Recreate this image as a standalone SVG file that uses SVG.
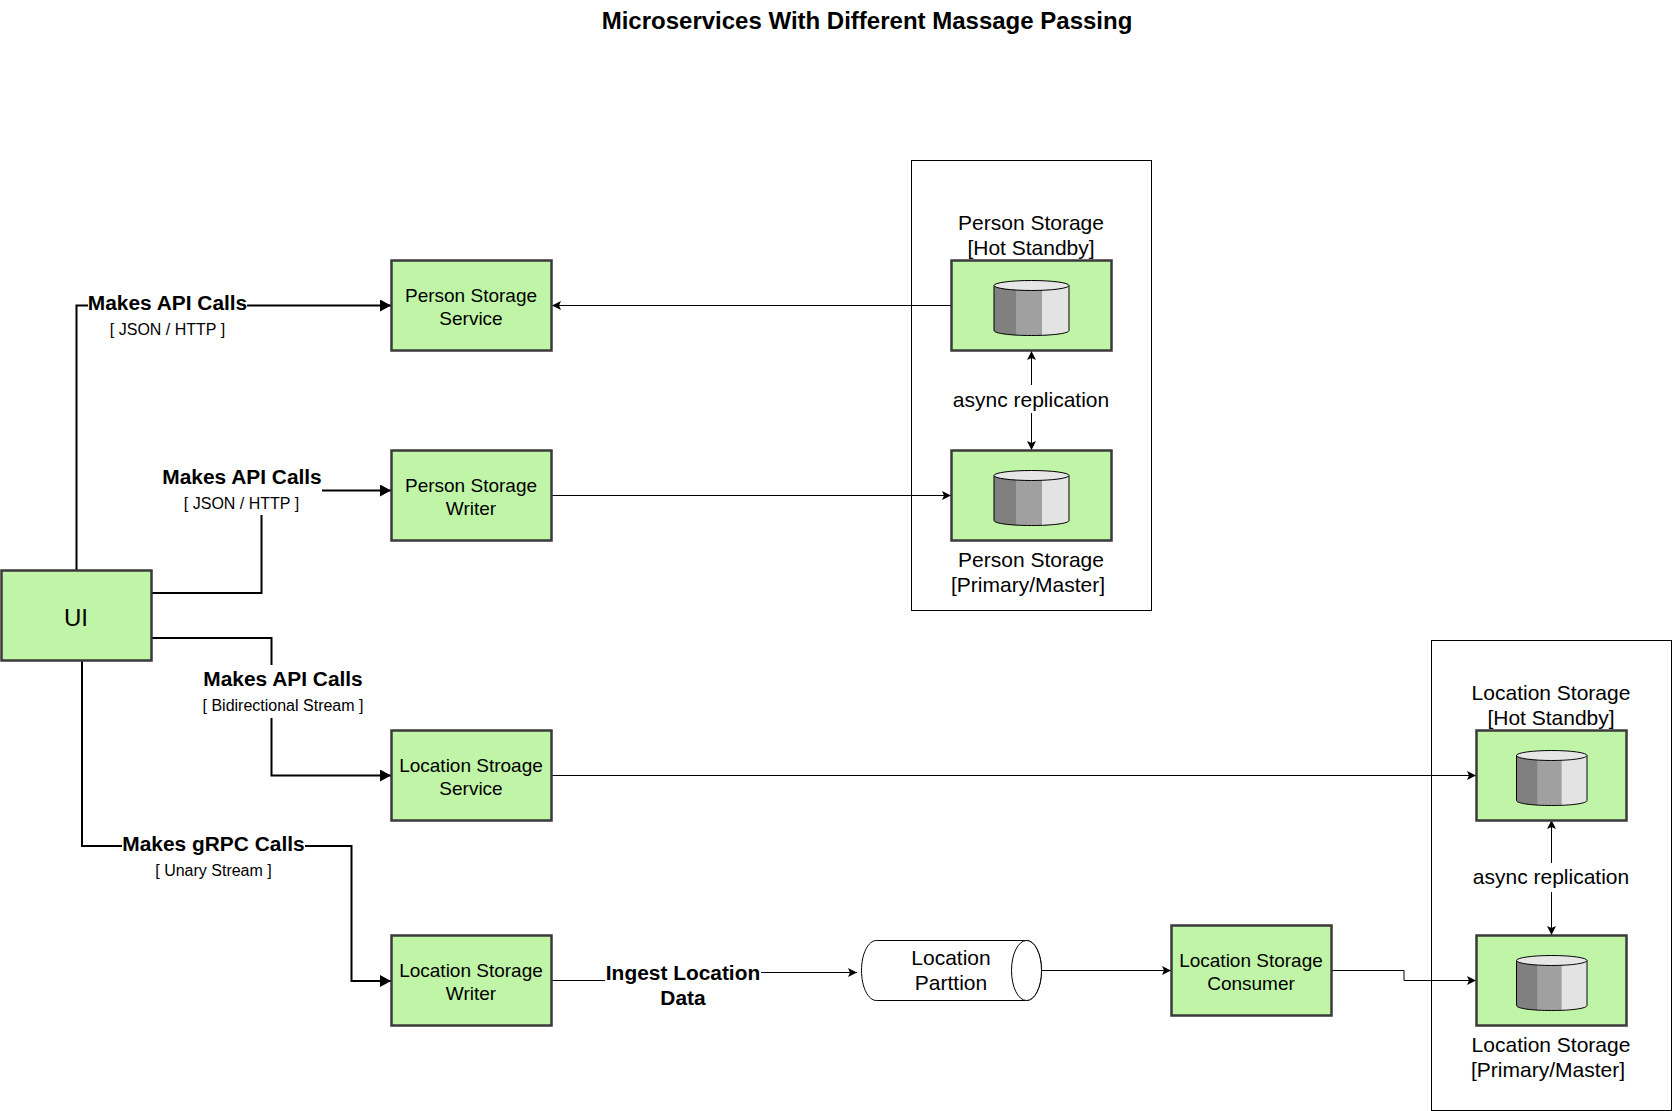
<svg xmlns="http://www.w3.org/2000/svg" width="1672" height="1111" viewBox="0 0 1672 1111">
<style>
text{font-family:"Liberation Sans",Arial,sans-serif;fill:#000;text-anchor:middle}
.n{fill:#c0f5a8;stroke:#3a3a3a;stroke-width:2.5}
.t{font-size:19px}
.d{font-size:21px}
.b{font-size:20.9px;font-weight:bold}
.s{font-size:16px}
.c{fill:none;stroke:#000;stroke-width:2}
.f{fill:none;stroke:#000;stroke-width:1}
.o{fill:#fff;stroke:#000;stroke-width:1}
</style>
<defs>
<marker id="a" markerUnits="userSpaceOnUse" markerWidth="12" markerHeight="12" refX="11" refY="6" orient="auto"><path d="M0 0L11 6L0 12z" fill="#000"/></marker>
<marker id="e" markerUnits="userSpaceOnUse" markerWidth="10" markerHeight="9" refX="9" refY="4.500" orient="auto-start-reverse"><path d="M0 0L9 4.500L0 9L2 4.500z" fill="#000"/></marker>
<g id="db">
<path d="M0 5V50C0 53 17 55 37.500 55S75 53 75 50V5z" fill="#a0a0a0"/>
<path d="M0 5V50C0 52 10 54 22 54.700V5z" fill="#808080"/>
<path d="M48 5V54.700C63 54 75 52 75 50V5z" fill="#e3e3e3"/>
<path d="M0 5V50C0 53 17 55 37.500 55S75 53 75 50V5" fill="none" stroke="#000" stroke-width="1"/>
<ellipse cx="37.500" cy="5" rx="37.500" ry="5" fill="#e6e6e6" stroke="#000" stroke-width="1"/>
</g>
</defs>
<rect width="1672" height="1111" fill="#fff"/>
<text x="867" y="29" style="font-size:24px;font-weight:bold">Microservices With Different Massage Passing</text>
<g id="person-storage-group"><rect class="o" x="911.500" y="160.500" width="240" height="450"/></g>
<g id="location-storage-group"><rect class="o" x="1431.500" y="640.500" width="240" height="470"/></g>
<g id="connectors">
<path class="c" d="M76.500 570V305.500H88M247 305.500H391" marker-end="url(#a)"/>
<path class="c" d="M322 490.500H391" marker-end="url(#a)"/>
<path class="c" d="M151 593H261.500V515"/>
<path class="c" d="M151 638H271.500V665M271.500 718V775.500H391" marker-end="url(#a)"/>
<path class="c" d="M82 660V846H122M305 846H351.500V981H391" marker-end="url(#a)"/>
<path class="f" d="M951 305.500H552" marker-end="url(#e)"/>
<path class="f" d="M552 495.500H951" marker-end="url(#e)"/>
<path class="f" d="M552 775.500H1476" marker-end="url(#e)"/>
<path class="f" d="M1031.500 351V385M1031.500 413V450" marker-start="url(#e)" marker-end="url(#e)"/>
<path class="f" d="M1551.500 820V863M1551.500 892V935" marker-start="url(#e)" marker-end="url(#e)"/>
<path class="f" d="M552 980.500H605M761 972.500H857" marker-end="url(#e)"/>
<path class="f" d="M1042 970.500H1171" marker-end="url(#e)"/>
<path class="f" d="M1332 970.500H1404V980.500H1476" marker-end="url(#e)"/>
</g>
<g id="labels">
<text class="b" x="167.500" y="310">Makes API Calls</text><text class="s" x="167.500" y="335">[ JSON / HTTP ]</text>
<text class="b" x="242" y="484">Makes API Calls</text><text class="s" x="241.500" y="509">[ JSON / HTTP ]</text>
<text class="b" x="283" y="686">Makes API Calls</text><text class="s" x="283" y="711">[ Bidirectional Stream ]</text>
<text class="b" x="213.500" y="851">Makes gRPC Calls</text><text class="s" x="213.500" y="876">[ Unary Stream ]</text>
<text class="b" x="683" y="980">Ingest Location</text><text class="b" x="683" y="1005">Data</text>
</g>
<g id="ui"><rect class="n" x="1.500" y="570.500" width="150" height="90"/><text x="76" y="626" style="font-size:24px">UI</text></g>
<g id="person-storage-service"><rect class="n" x="391.500" y="260.500" width="160" height="90"/><text class="t" x="471" y="302">Person Storage</text><text class="t" x="471" y="325">Service</text></g>
<g id="person-storage-writer"><rect class="n" x="391.500" y="450.500" width="160" height="90"/><text class="t" x="471" y="492">Person Storage</text><text class="t" x="471" y="515">Writer</text></g>
<g id="location-storage-service"><rect class="n" x="391.500" y="730.500" width="160" height="90"/><text class="t" x="471" y="772">Location Stroage</text><text class="t" x="471" y="795">Service</text></g>
<g id="location-storage-writer"><rect class="n" x="391.500" y="935.500" width="160" height="90"/><text class="t" x="471" y="977">Location Storage</text><text class="t" x="471" y="1000">Writer</text></g>
<g id="location-storage-consumer"><rect class="n" x="1171.500" y="925.500" width="160" height="90"/><text class="t" x="1251" y="967">Location Storage</text><text class="t" x="1251" y="990">Consumer</text></g>
<g id="location-partition">
<path d="M876.500 940.500H1026.500C1035 940.500 1041.500 954 1041.500 970.500S1035 1000.500 1026.500 1000.500H876.500C868 1000.500 861.500 987 861.500 970.500S868 940.500 876.500 940.500z" fill="#fff" stroke="#000"/>
<ellipse cx="1026.500" cy="970.500" rx="15" ry="30" fill="#fff" stroke="#000"/>
<text class="d" x="951" y="965">Location</text><text class="d" x="951" y="990">Parttion</text>
</g>
<g id="person-storage-hot-standby"><rect class="n" x="951.500" y="260.500" width="160" height="90"/><use href="#db" x="994" y="280.500"/><text class="d" x="1031" y="230">Person Storage</text><text class="d" x="1031" y="255">[Hot Standby]</text></g>
<g id="person-storage-primary"><rect class="n" x="951.500" y="450.500" width="160" height="90"/><use href="#db" x="994" y="470.500"/><text class="d" x="1031" y="567">Person Storage</text><text class="d" x="1028" y="592">[Primary/Master]</text></g>
<g id="replication-label-person"><text class="d" x="1031" y="407">async replication</text></g>
<g id="location-storage-hot-standby"><rect class="n" x="1476.500" y="730.500" width="150" height="90"/><use href="#db" transform="translate(1516.500 750.500) scale(.94 1)"/><text class="d" x="1551" y="700">Location Storage</text><text class="d" x="1551" y="725">[Hot Standby]</text></g>
<g id="location-storage-primary"><rect class="n" x="1476.500" y="935.500" width="150" height="90"/><use href="#db" transform="translate(1516.500 955.500) scale(.94 1)"/><text class="d" x="1551" y="1052">Location Storage</text><text class="d" x="1548" y="1077">[Primary/Master]</text></g>
<g id="replication-label-location"><text class="d" x="1551" y="884">async replication</text></g>
</svg>
